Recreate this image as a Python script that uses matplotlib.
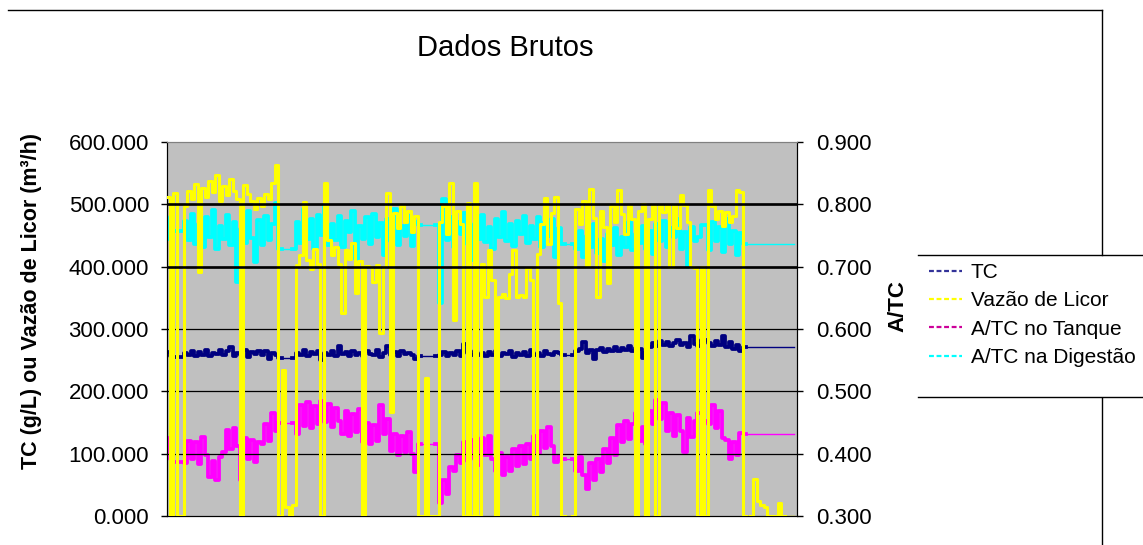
import numpy as np
import matplotlib.pyplot as plt
from matplotlib.lines import Line2D

plt.rcParams['font.family'] = ['Liberation Sans', 'DejaVu Sans']

# TC (g/L) - eixo esquerdo
tc = [263, 256, 255, 255, 255,
      262, 258, 265, 257, 263, 259, 266, 256, 262, 260, 267, 258, 264, 271, 257, 262, 259, 266, 255, 263,
      260, 265, 258, 264, 252, 262, 259,
      253, 253, 253, 253, 253,
      262, 258, 266, 256, 263, 260, 265, 251, 262, 259, 264, 257, 272, 260, 263, 257, 265, 259, 262, 256,
      264, 260, 258, 266, 255, 262, 273, 259, 263, 257, 264, 260, 262, 258, 252,
      257, 257, 257, 257, 257, 257,
      258, 263, 256, 262, 259, 265, 257, 276, 262, 258, 264, 259, 261, 256, 263, 258, 265, 257, 262, 260,
      264, 255, 261, 258, 263, 257, 266, 259, 262, 256, 264, 260, 258, 263, 261,
      258, 258, 258, 258,
      264, 268, 279, 262, 267, 252, 266, 270, 263, 268, 265, 271, 264, 269, 266, 272, 265, 270,
      268, 254, 262, 271, 278, 273, 281, 275, 279, 272, 277, 283, 274, 278, 271, 289, 276,
      273, 282, 282,
      277, 272, 281, 274, 288, 271, 279, 268, 275, 265,
      271, 271, 271, 271, 271, 271, 271, 271, 271, 271, 271, 271, 271, 271, 271]

# Vazao de licor (m3/h) - eixo esquerdo
vazao = [512, 0, 518, 0, 0,
         498, 521, 509, 533, 392, 527, 512, 538, 519, 547, 506, 529, 515, 541, 522, 509, 0, 531, 517, 505,
         492, 510, 498, 517, 509, 534, 563,
         0, 234, 15, 0, 18,
         402, 418, 504, 411, 396, 428, 405, 0, 534, 443, 418, 431, 405, 325, 427, 412, 438, 357, 409, 0,
         401, 399, 376, 402, 293, 400, 518, 167, 486, 462, 497, 471, 489, 455, 482,
         0, 0, 221, 0, 0, 0,
         471, 498, 452, 534, 314, 489, 468, 0, 502, 0, 534, 0, 405, 352, 427, 379, 0, 352, 356, 350,
         389, 427, 352, 354, 351, 398, 378, 0, 421, 468, 510, 437, 486, 512, 341,
         0, 0, 0, 0,
         492, 468, 505, 401, 525, 478, 352, 489, 463, 373, 497, 471, 523, 485, 452, 498, 476, 0, 489, 501,
         0, 476, 499, 0, 499, 488, 499, 400, 499, 462, 515, 499, 472, 400, 398,
         0, 400, 0,
         523, 498, 476, 490, 465, 488, 471, 482, 523, 519,
         0, 0, 0, 60, 24, 18, 15, 0, 0, 0, 21, 0, 0, 0, 0]

# A/TC no tanque - eixo direito
atc_tanque = [0.425, 0.392, 0.387, 0.387, 0.387,
              0.385, 0.421, 0.392, 0.418, 0.384, 0.426, 0.398, 0.362, 0.389, 0.358, 0.394, 0.402, 0.438,
              0.407, 0.441, 0.412, 0.358, 0.425, 0.391, 0.422, 0.387, 0.419, 0.416, 0.448, 0.421, 0.466, 0.436,
              0.449, 0.449, 0.449, 0.449, 0.449,
              0.432, 0.478, 0.445, 0.483, 0.441, 0.476, 0.448, 0.485, 0.451, 0.479, 0.443, 0.474, 0.452,
              0.431, 0.468, 0.428, 0.463, 0.435, 0.472, 0.418, 0.449, 0.415, 0.446, 0.421, 0.478, 0.432,
              0.456, 0.405, 0.432, 0.398, 0.429, 0.403, 0.434, 0.399, 0.371,
              0.415, 0.415, 0.415, 0.415, 0.415, 0.415,
              0.321, 0.358, 0.335, 0.378, 0.372, 0.398, 0.385, 0.418, 0.389, 0.422, 0.392, 0.382, 0.425,
              0.398, 0.428, 0.391, 0.372, 0.401, 0.365, 0.395, 0.372, 0.408, 0.381, 0.412, 0.384, 0.415,
              0.392, 0.428, 0.401, 0.437, 0.409, 0.442, 0.412, 0.386, 0.396,
              0.391, 0.391, 0.391, 0.391,
              0.372, 0.395, 0.366, 0.344, 0.385, 0.358, 0.392, 0.371, 0.408, 0.385, 0.425, 0.398, 0.446,
              0.419, 0.452, 0.424, 0.448, 0.466, 0.421, 0.442, 0.416, 0.468, 0.448, 0.486, 0.455, 0.481,
              0.436, 0.465, 0.428, 0.462, 0.437, 0.403, 0.458, 0.426, 0.452,
              0.465, 0.465, 0.452,
              0.448, 0.478, 0.441, 0.468, 0.425, 0.422, 0.391, 0.418, 0.398, 0.433,
              0.431, 0.431, 0.431, 0.431, 0.431, 0.431, 0.431, 0.431, 0.431, 0.431, 0.431, 0.431, 0.431,
              0.431, 0.431]

# A/TC na digestao - eixo direito
atc_digestao = [0.745, 0.779, 0.758, 0.758, 0.758,
                0.774, 0.742, 0.785, 0.737, 0.768, 0.731, 0.779, 0.748, 0.791, 0.729, 0.766, 0.744, 0.783,
                0.735, 0.772, 0.676, 0.761, 0.738, 0.789, 0.746, 0.708, 0.775, 0.734, 0.781, 0.742, 0.769,
                0.802,
                0.728, 0.728, 0.728, 0.728, 0.728,
                0.771, 0.738, 0.792, 0.745, 0.776, 0.729, 0.783, 0.751, 0.797, 0.735, 0.768, 0.742, 0.781,
                0.731, 0.774, 0.756, 0.789, 0.712, 0.766, 0.744, 0.779, 0.737, 0.785, 0.748, 0.770, 0.718,
                0.776, 0.741, 0.792, 0.735, 0.765, 0.749, 0.782, 0.733, 0.771,
                0.767, 0.767, 0.767, 0.767, 0.767, 0.767,
                0.641, 0.808, 0.742, 0.779, 0.731, 0.771, 0.752, 0.786, 0.737, 0.711, 0.768, 0.745, 0.783,
                0.739, 0.764, 0.728, 0.776, 0.748, 0.787, 0.741, 0.769, 0.733, 0.774, 0.752, 0.781, 0.738,
                0.766, 0.745, 0.779, 0.731, 0.771, 0.749, 0.776, 0.716, 0.762,
                0.736, 0.736, 0.736, 0.736,
                0.728, 0.757, 0.716, 0.749, 0.731, 0.768, 0.722, 0.745, 0.709, 0.753, 0.735, 0.762, 0.719,
                0.748, 0.731, 0.771, 0.726, 0.752, 0.738, 0.765, 0.729, 0.758, 0.721, 0.769, 0.741, 0.773,
                0.732, 0.762, 0.747, 0.776, 0.728, 0.755, 0.699, 0.763, 0.741,
                0.748, 0.767, 0.767,
                0.726, 0.772, 0.741, 0.763, 0.724, 0.776, 0.737, 0.758, 0.719, 0.754,
                0.736, 0.736, 0.736, 0.736, 0.736, 0.736, 0.736, 0.736, 0.736, 0.736, 0.736, 0.736, 0.736,
                0.736, 0.736]

limites = [400, 500]
ticks_esq = [0, 100, 200, 300, 400, 500, 600]
ticks_dir = [0.3, 0.4, 0.5, 0.6, 0.7, 0.8, 0.9]
nomes = ['TC', 'Vazão de Licor', 'A/TC no Tanque', 'A/TC na Digestão']


def serie(eixo, valores, cor, lw_fino, lw_grosso, z):
    # linha fina em toda a serie + traco grosso so onde ha oscilacao (trechos parados ficam finos)
    v = np.array(valores, dtype=float)
    x = np.arange(len(v))
    igual_ant = np.r_[True, v[1:] == v[:-1]]
    igual_prox = np.r_[v[:-1] == v[1:], True]
    parado = igual_ant & igual_prox
    eixo.plot(x, v, color=cor, lw=lw_fino, drawstyle='steps-mid', zorder=z)
    eixo.plot(x, np.ma.masked_where(parado, v), color=cor, lw=lw_grosso, drawstyle='steps-mid',
              zorder=z)


W, H = 1143, 545
fig = plt.figure(figsize=(W / 100, H / 100), dpi=100)
ax = fig.add_axes([167 / W, 29 / H, 630 / W, 374 / H])
ax2 = ax.twinx()
ax.set_zorder(ax2.get_zorder() + 1)
ax.patch.set_visible(False)
ax2.patch.set_visible(True)
ax2.patch.set_facecolor('#c0c0c0')

# series do eixo direito (ficam atras)
serie(ax2, atc_tanque, '#ff00ff', 1.0, 2.7, 2)
serie(ax2, atc_digestao, '#00ffff', 1.0, 2.7, 2)

# grade
for v in ticks_esq[1:-1]:
    ax.axhline(v, color='black', lw=0.9, zorder=1)
serie(ax, tc, '#000080', 1.0, 2.7, 2)
serie(ax, vazao, '#ffff00', 1.0, 2.2, 3)
for v in limites:
    ax.axhline(v, color='black', lw=1.9, zorder=4)

ax.set_xlim(-0.3, 180)
ax.set_ylim(0, 600)
ax2.set_ylim(0.3, 0.9)
ax.set_xticks([])
ax.set_yticks(ticks_esq)
ax.set_yticklabels(['%.3f' % v for v in ticks_esq])
ax2.set_yticks(ticks_dir)
ax2.set_yticklabels(['%.3f' % v for v in ticks_dir])
ax.tick_params(axis='y', direction='out', length=4, width=1, pad=9, labelsize=16)
ax2.tick_params(axis='y', direction='out', length=4, width=1, pad=10, labelsize=16)
for a in (ax, ax2):
    a.spines['top'].set_color('#808080')
    a.spines['left'].set_color('black')
    a.spines['right'].set_color('black')
    a.spines['bottom'].set_color('black')

fig.text(505 / W, 1 - 48 / H, 'Dados Brutos', ha='center', va='center', fontsize=21,
         family=['Liberation Sans Narrow', 'Liberation Sans', 'DejaVu Sans'])
fig.text(32 / W, 1 - 301 / H, 'TC (g/L) ou Vazão de Licor (m³/h)', rotation=90, ha='center',
         va='center', fontsize=15.5, fontweight='bold')
fig.text(898 / W, 1 - 306 / H, 'A/TC', rotation=90, ha='center', va='center', fontsize=16,
         fontweight='bold')

# moldura do grafico e da legenda
moldura = [([8, 1102], [10, 10]), ([1102, 1102], [10, 255]), ([1102, 1102], [398, 545]),
           ([918, 1143], [255, 255]), ([918, 1143], [397, 397])]
for xs, ys in moldura:
    fig.add_artist(Line2D([x / W for x in xs], [1 - y / H for y in ys], color='black', lw=1,
                          transform=fig.transFigure))

cores_leg = ['#333399', '#ffff00', '#cc0099', '#00ffff']
handles = [Line2D([], [], color=c, lw=1.6, ls=(0, (2.2, 1.2))) for c in cores_leg]
fig.legend(handles, nomes, loc='upper left', bbox_to_anchor=(929 / W, 1 - 263 / H), frameon=False,
           fontsize=15, handlelength=1.6, handletextpad=0.4, labelspacing=0.45, borderpad=0,
           borderaxespad=0)

fig.savefig('out.png', dpi=100)
